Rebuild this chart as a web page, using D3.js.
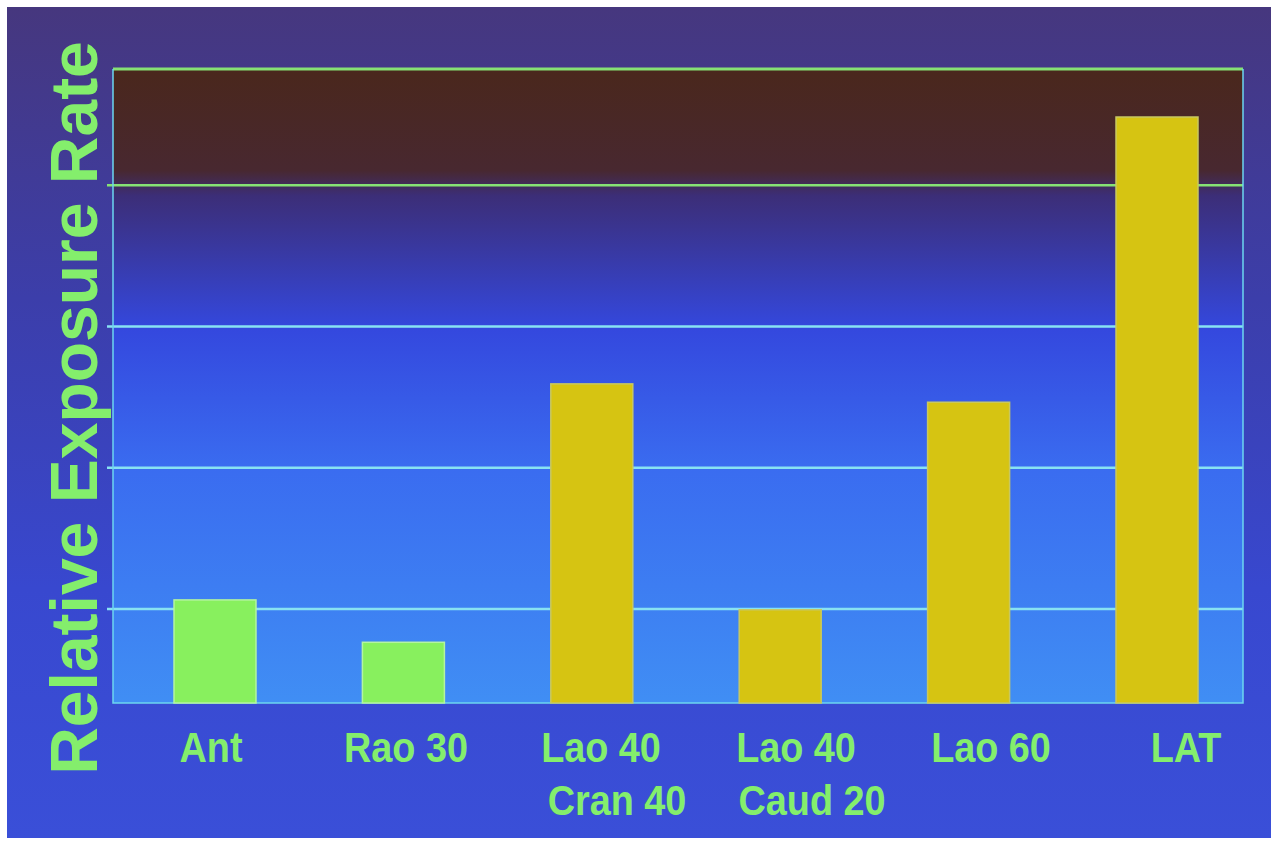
<!DOCTYPE html>
<html>
<head>
<meta charset="utf-8">
<script src="https://cdn.jsdelivr.net/npm/d3@7"></script>
<style>
  body { margin: 0; background: #ffffff; }
  svg text { font-family: "Liberation Sans", Arial, sans-serif; font-weight: bold; }
</style>
</head>
<body>
<svg id="chart" width="1277" height="843"></svg>
<script>
// relative exposure rate per projection
const categories  = ['Ant', 'Rao 30', 'Lao 40 Cran 40', 'Lao 40 Caud 20', 'Lao 60', 'LAT'];
const labelLines  = [['Ant'], ['Rao 30'], ['Lao 40', 'Cran 40'], ['Lao 40', 'Caud 20'], ['Lao 60'], ['LAT']];
const values      = [1.06, 0.76, 2.59, 0.99, 2.46, 4.48];
const highlighted = [false, false, true, true, true, true];
const gridValues  = [1, 2, 3, 4];
const yDomain     = [0.33, 4.82];
const yTitle      = 'Relative Exposure Rate';

const svg = d3.select('#chart');

const plot = { left: 113, right: 1243, top: 69, bottom: 703 };

let defs = svg.append('defs');

let outerGrad = defs.append('linearGradient')
    .attr('id', 'outerGrad')
    .attr('x1', 0).attr('y1', 0).attr('x2', 0).attr('y2', 1);
outerGrad.append('stop').attr('offset', 0).attr('stop-color', '#46377e');
outerGrad.append('stop').attr('offset', 0.35).attr('stop-color', '#3c3eaa');
outerGrad.append('stop').attr('offset', 0.7).attr('stop-color', '#3848cf');
outerGrad.append('stop').attr('offset', 1).attr('stop-color', '#3a4fd8');

let plotGrad = defs.append('linearGradient')
    .attr('id', 'plotGrad')
    .attr('x1', 0).attr('y1', 0).attr('x2', 0).attr('y2', 1);
plotGrad.append('stop').attr('offset', 0).attr('stop-color', '#4a271c');
plotGrad.append('stop').attr('offset', 0.16).attr('stop-color', '#482830');
plotGrad.append('stop').attr('offset', 0.2).attr('stop-color', '#3c2e78');
plotGrad.append('stop').attr('offset', 0.41).attr('stop-color', '#3448de');
plotGrad.append('stop').attr('offset', 0.63).attr('stop-color', '#3a6cf0');
plotGrad.append('stop').attr('offset', 1).attr('stop-color', '#408ef4');

// projected slide area
svg.append('rect')
    .attr('x', 7).attr('y', 7)
    .attr('width', 1264).attr('height', 831)
    .attr('fill', 'url(#outerGrad)');

svg.append('rect')
    .attr('x', plot.left).attr('y', plot.top)
    .attr('width', plot.right - plot.left).attr('height', plot.bottom - plot.top)
    .attr('fill', 'url(#plotGrad)');

let y = d3.scaleLinear()
    .domain(yDomain)
    .range([plot.bottom, plot.top]);

let x = d3.scalePoint()
    .domain(categories)
    .range([215, 1157]);

let xLabel = d3.scalePoint()
    .domain(categories)
    .range([211, 1186]);

const barWidth = 82;

// gridlines
let grid = svg.append('g')
    .attr('transform', `translate(${plot.left},0)`)
    .call(d3.axisLeft(y)
        .tickValues(gridValues)
        .tickSize(-(plot.right - plot.left))
        .tickFormat(''));
grid.select('.domain').remove();
grid.selectAll('.tick line')
    .attr('x1', -6)
    .attr('stroke', d => d >= 4 ? '#86e274' : '#88e2f2')
    .attr('stroke-width', 2.5);

// frame
svg.append('line')
    .attr('x1', plot.left).attr('x2', plot.right)
    .attr('y1', plot.top).attr('y2', plot.top)
    .attr('stroke', '#86e274').attr('stroke-width', 3);
svg.append('path')
    .attr('d', `M${plot.left},${plot.top}V${plot.bottom}H${plot.right}V${plot.top}`)
    .attr('fill', 'none')
    .attr('stroke', '#6cd6f0')
    .attr('stroke-width', 1.5);

// bars
svg.append('g')
    .selectAll('rect')
    .data(categories)
    .join('rect')
    .attr('x', d => x(d) - barWidth / 2)
    .attr('y', (d, i) => y(values[i]))
    .attr('width', barWidth)
    .attr('height', (d, i) => y(yDomain[0]) - y(values[i]))
    .attr('fill', (d, i) => highlighted[i] ? '#d6c412' : '#88f05e')
    .attr('stroke', (d, i) => highlighted[i] ? '#c8c860' : '#b4f4a0')
    .attr('stroke-width', 1.5);

// category labels
let labels = svg.append('g')
    .selectAll('g')
    .data(categories)
    .join('g')
    .attr('transform', d => `translate(${xLabel(d)},0)`);

labels.each(function (d, i) {
    d3.select(this)
        .selectAll('text')
        .data(labelLines[i])
        .join('text')
        .attr('text-anchor', 'middle')
        .attr('transform', (t, j) => `translate(${j === 1 ? 16 : 0},${762 + j * 53}) scale(0.9,1)`)
        .attr('font-size', 42)
        .attr('fill', '#84ee6c')
        .text(t => t);
});

// y title
svg.append('text')
    .attr('transform', 'translate(97,408) rotate(-90)')
    .attr('text-anchor', 'middle')
    .attr('font-size', 66)
    .attr('fill', '#84ee6c')
    .text(yTitle);
</script>
</body>
</html>
